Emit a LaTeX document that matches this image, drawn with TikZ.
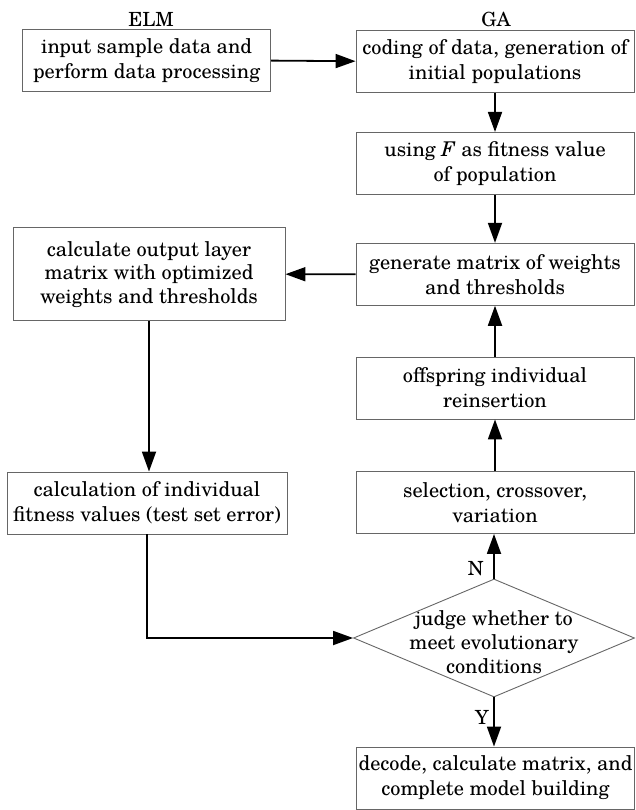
\documentclass[tikz,border=0pt]{standalone}
\usepackage{fontspec}
\setmainfont{texgyreschola}[Extension=.otf, UprightFont=*-regular, ItalicFont=*-italic, BoldFont=*-bold, BoldItalicFont=*-bolditalic]
\usetikzlibrary{arrows.meta,shapes.geometric}
\begin{document}
\begin{tikzpicture}[x=1pt,y=-1pt,
  box/.style={draw=black!60, line width=0.9pt, align=center, font=\fontsize{20.3}{25}\selectfont, inner sep=0pt, minimum height=62pt},
  gabox/.style={box, minimum width=278pt},
  arr/.style={line width=1.8pt, -{Triangle[length=20pt,width=14pt]}},
  lbl/.style={font=\fontsize{19.5}{22}\selectfont}]
\useasboundingbox (0,0) rectangle (635,810);

\node[lbl] (elm) at (151,19) {ELM};
\node[lbl] (ga) at (496,19) {GA};

\node[box, minimum width=248pt] (A) at (146.6,60.6) {input sample data and\\perform data processing};
\node[gabox] (B) at (495,61.2) {coding of data, generation of\\initial populations};
\node[gabox] (C) at (495,163.4) {using \textit{F} as fitness value\\of population};
\node[gabox] (D) at (495,274.3) {generate matrix of weights\\and thresholds};
\node[box, minimum width=272pt, minimum height=93pt, font=\fontsize{20.3}{23.5}\selectfont] (E) at (149,274.2) {calculate output layer\\matrix with optimized\\weights and thresholds};
\node[gabox] (G) at (495,388) {offspring individual\\reinsertion};
\node[gabox] (H) at (495,502.5) {selection, crossover,\\variation};
\node[box, minimum width=280pt] (I) at (147,503) {calculation of individual\\fitness values (test set error)};
\node[diamond, draw=black!60, line width=0.9pt, minimum width=281pt, minimum height=118pt, inner sep=0pt] (J) at (494,638) {};
\node[align=center, font=\fontsize{20.3}{24}\selectfont] (Jt) at (494,642) {judge whether to\\meet evolutionary\\conditions};
\node[gabox] (K) at (495.5,778) {decode, calculate matrix, and\\complete model building};

\draw[arr] (A.east) -- (B.west);
\draw[arr] (B) -- (C);
\draw[arr] (C) -- (D);
\draw[arr] (D.west) -- (E.east);
\draw[arr] (E.south) -- (E.south |- I.north);
\draw[arr] (I.south) |- (J.west);
\draw[arr] (J.north) -- (J.north |- H.south) node[lbl, pos=0.22, left=6pt] (N) {N};
\draw[arr] (H) -- (G);
\draw[arr] (G) -- (D);
\draw[arr] (J.south) -- (J.south |- K.north) node[lbl, pos=0.4, left=1pt] (Y) {Y};
\end{tikzpicture}
\end{document}
